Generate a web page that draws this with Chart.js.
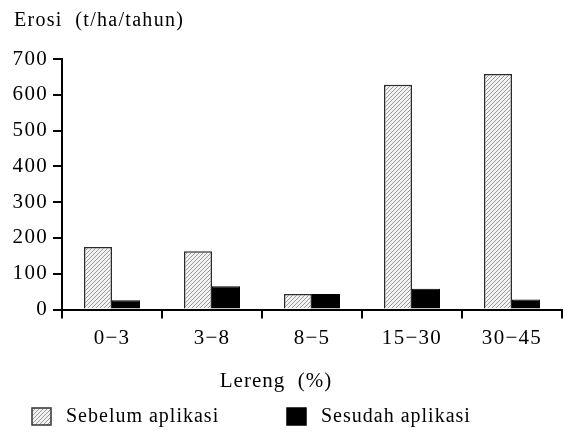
<!DOCTYPE html>
<html>
<head>
<meta charset="utf-8">
<script src="https://cdn.jsdelivr.net/npm/chart.js@4"></script>
<style>
  html, body { margin: 0; padding: 0; background: #fff; }
  #wrap { position: relative; width: 565px; height: 432px; }
</style>
</head>
<body>
<div id="wrap"><canvas id="c"></canvas></div>
<script>
const categories = ['0\u22123', '3\u22128', '8\u22125', '15\u221230', '30\u221245'];
const sebelum = [175, 163, 43, 628, 658];
const sesudah = [26, 65, 43, 58, 28];
const yTicks = [0, 100, 200, 300, 400, 500, 600, 700];
const seriesNames = ['Sebelum aplikasi', 'Sesudah aplikasi'];
const yTitle = 'Erosi  (t/ha/tahun)';
const xTitle = 'Lereng  (%)';

const FONT = '"Liberation Serif", "Times New Roman", serif';
const TICK_SIZE = 21;
const TICK_SPACING = '1.3px';

// light grey with fine "/" hatching
function hatch() {
  const c = document.createElement('canvas');
  c.width = 4; c.height = 4;
  const g = c.getContext('2d');
  g.fillStyle = '#f2f2f2';
  g.fillRect(0, 0, 4, 4);
  g.strokeStyle = '#9a9a9a';
  g.lineWidth = 1;
  g.beginPath();
  g.moveTo(0, 4); g.lineTo(4, 0);
  g.moveTo(-1, 1); g.lineTo(1, -1);
  g.moveTo(3, 5); g.lineTo(5, 3);
  g.stroke();
  return g.createPattern(c, 'repeat');
}
const hatchFill = hatch();

// chart.js has no letter spacing option, so set it on the context
const spacingPlugin = {
  id: 'spacing',
  beforeLayout(chart) { chart.ctx.letterSpacing = TICK_SPACING; },
  beforeDraw(chart) { chart.ctx.letterSpacing = TICK_SPACING; }
};

const extrasPlugin = {
  id: 'extras',
  afterDraw(chart) {
    const ctx = chart.ctx;
    ctx.save();
    ctx.fillStyle = '#000';
    ctx.textBaseline = 'middle';

    ctx.letterSpacing = '1.3px';
    ctx.font = '20px ' + FONT;
    ctx.textAlign = 'left';
    ctx.fillText(yTitle, 14, 21);

    ctx.letterSpacing = '1px';
    ctx.font = '21px ' + FONT;
    ctx.textAlign = 'center';
    ctx.fillText(xTitle, 276, 381);

    // legend
    ctx.font = '20px ' + FONT;
    ctx.textAlign = 'left';
    const items = [
      { x: 32, fill: hatchFill, stroke: '#333' },
      { x: 287, fill: '#000', stroke: '#000' }
    ];
    items.forEach((it, i) => {
      ctx.fillStyle = it.fill;
      ctx.fillRect(it.x, 408, 19, 17);
      ctx.strokeStyle = it.stroke;
      ctx.lineWidth = 1.5;
      ctx.strokeRect(it.x, 408, 19, 17);
      ctx.fillStyle = '#000';
      ctx.fillText(seriesNames[i], it.x + 34, 417);
    });
    ctx.restore();
  }
};

new Chart(document.getElementById('c'), {
  type: 'bar',
  data: {
    labels: categories,
    datasets: [
      {
        label: seriesNames[0],
        data: sebelum,
        backgroundColor: hatchFill,
        borderColor: '#2a2a2a',
        borderWidth: 1.5,
        borderSkipped: 'bottom'
      },
      {
        label: seriesNames[1],
        data: sesudah,
        backgroundColor: '#000',
        borderColor: '#000',
        borderWidth: 1,
        borderSkipped: 'bottom'
      }
    ]
  },
  options: {
    responsive: true,
    maintainAspectRatio: false,
    animation: false,
    layout: { padding: { left: 12, right: 3, top: 59, bottom: 36 } },
    plugins: {
      legend: { display: false },
      tooltip: { enabled: false }
    },
    datasets: {
      bar: { categoryPercentage: 0.56, barPercentage: 1 }
    },
    scales: {
      x: {
        afterFit(scale) { scale.height = 86.5; },
        grid: { drawOnChartArea: false, drawTicks: true, tickLength: 9, color: '#000', lineWidth: 2, offset: true },
        border: { display: true, color: '#000', width: 2 },
        ticks: { color: '#000', font: { family: FONT, size: TICK_SIZE }, padding: 7, maxRotation: 0 }
      },
      y: {
        min: 0,
        max: 700,
        afterBuildTicks(scale) { scale.ticks = yTicks.map(v => ({ value: v })); },
        afterFit(scale) { scale.width = 50; },
        grid: { drawOnChartArea: false, drawTicks: true, tickLength: 9, color: '#000', lineWidth: 2 },
        border: { display: true, color: '#000', width: 2 },
        ticks: { color: '#000', font: { family: FONT, size: TICK_SIZE }, padding: 5 }
      }
    }
  },
  plugins: [spacingPlugin, extrasPlugin]
});
</script>
</body>
</html>
